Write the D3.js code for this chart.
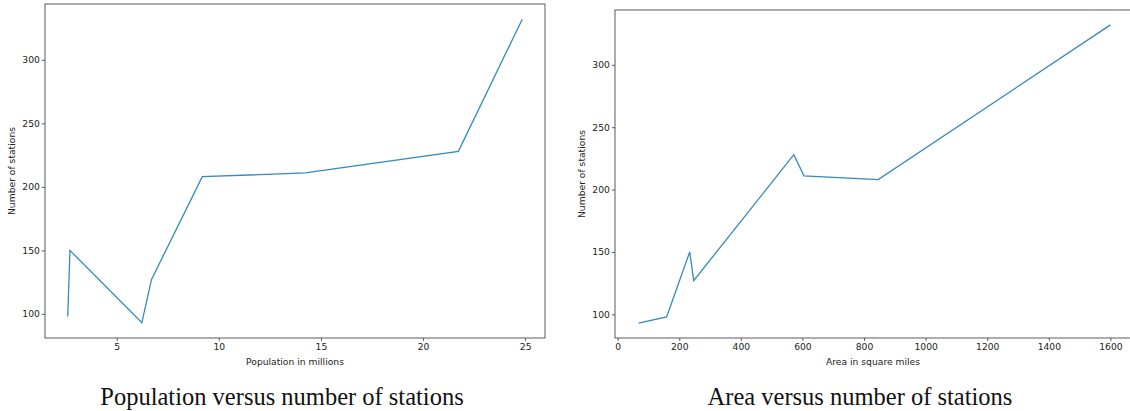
<!DOCTYPE html>
<html>
<head>
<meta charset="utf-8">
<script src="https://cdn.jsdelivr.net/npm/d3@7"></script>
<style>
  body { margin: 0; background: #fff; }
  .tick text { font-family: "DejaVu Sans", sans-serif; font-size: 9.2px; fill: #222; }
  .lbl { font-family: "DejaVu Sans", sans-serif; font-size: 9.2px; fill: #222; }
  .ttl { font-family: "Liberation Serif", serif; font-size: 24.5px; fill: #111; }
</style>
</head>
<body>
<svg width="1130" height="411"></svg>
<script>
// values
var population = [2.6, 2.71, 6.23, 6.7, 9.19, 14.23, 21.73, 24.86];
var stationsByPop = [98, 150, 93, 127, 208, 211, 228, 332];
var area = [68, 159, 234, 247, 572, 605, 846, 1600];
var stationsByArea = [93, 98, 150, 127, 228, 211, 208, 332];
var popTicks = [5, 10, 15, 20, 25];
var areaTicks = [0, 200, 400, 600, 800, 1000, 1200, 1400, 1600];
var stationTicks = [100, 150, 200, 250, 300];

var svg = d3.select("svg");

// matplotlib style 5% margins on each side
function padded(vals) {
    var e = d3.extent(vals), m = (e[1] - e[0]) * 0.05;
    return [e[0] - m, e[1] + m];
}

function panel(opt) {
    var x = d3.scaleLinear().domain(padded(opt.xs)).range([opt.left, opt.right]);
    var y = d3.scaleLinear().domain(padded(opt.ys)).range([opt.bottom, opt.top]);
    var g = svg.append("g");

    g.append("g")
        .attr("transform", "translate(0," + opt.bottom + ")")
        .call(d3.axisBottom(x).tickValues(opt.xTicks).tickSize(3.1).tickPadding(2).tickFormat(d3.format("d")))
        .call(function (a) { a.select(".domain").remove(); });
    g.append("g")
        .attr("transform", "translate(" + opt.left + ",0)")
        .call(d3.axisLeft(y).tickValues(stationTicks).tickSize(3.1).tickPadding(2).tickFormat(d3.format("d")))
        .call(function (a) { a.select(".domain").remove(); });
    g.selectAll(".tick line").attr("stroke", "#222").attr("stroke-width", 0.7);

    // frame
    g.append("rect")
        .attr("x", opt.left).attr("y", opt.top)
        .attr("width", opt.right - opt.left).attr("height", opt.bottom - opt.top)
        .attr("fill", "none").attr("stroke", "#333").attr("stroke-width", 0.8);

    var line = d3.line().x(function (d) { return x(d[0]); }).y(function (d) { return y(d[1]); });
    g.append("path")
        .datum(d3.zip(opt.xs, opt.ys))
        .attr("d", line)
        .attr("fill", "none")
        .attr("stroke", "#348ABD")
        .attr("stroke-width", 1.3);

    g.append("text").attr("class", "lbl")
        .attr("x", opt.xLabelX).attr("y", 365)
        .attr("text-anchor", "middle")
        .text(opt.xLabel);
    g.append("text").attr("class", "lbl")
        .attr("transform", "translate(" + opt.yLabelX + "," + (opt.top + opt.bottom) / 2 + ") rotate(-90)")
        .attr("text-anchor", "middle")
        .text("Number of stations");

    svg.append("text").attr("class", "ttl")
        .attr("x", opt.titleX).attr("y", 405)
        .attr("text-anchor", "middle")
        .text(opt.title);
}

panel({
    xs: population, ys: stationsByPop, xTicks: popTicks,
    left: 45, right: 545, top: 4, bottom: 338,
    xLabel: "Population in millions", xLabelX: 295, yLabelX: 15,
    title: "Population versus number of stations", titleX: 282
});

panel({
    xs: area, ys: stationsByArea, xTicks: areaTicks,
    left: 615, right: 1134, top: 10, bottom: 338,
    xLabel: "Area in square miles", xLabelX: 873, yLabelX: 585,
    title: "Area versus number of stations", titleX: 860
});
</script>
</body>
</html>
